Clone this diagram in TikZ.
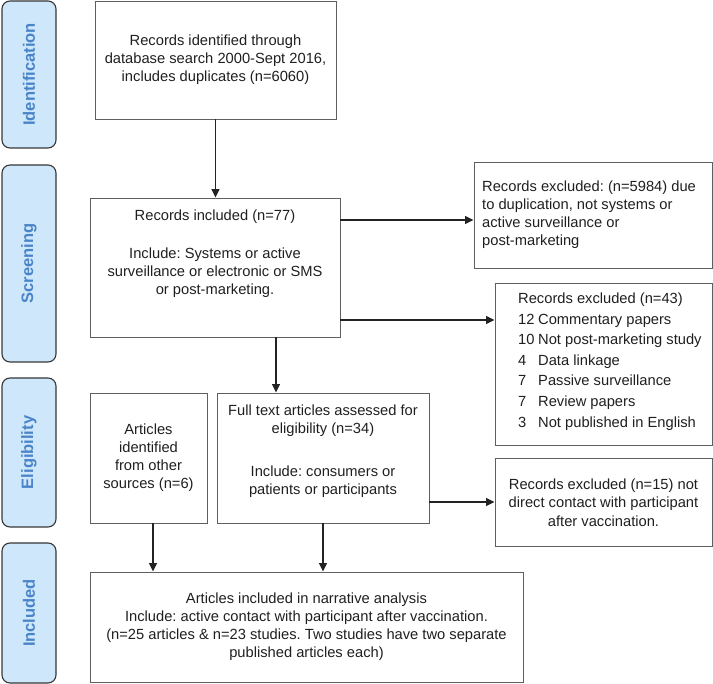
\documentclass[tikz,border=0pt]{standalone}
\usepackage{fontspec}
\setmainfont{Liberation Sans}
\usetikzlibrary{arrows.meta,calc}
\definecolor{sidefill}{RGB}{207,231,250}
\definecolor{sidetext}{RGB}{74,132,200}
\definecolor{sideline}{RGB}{55,55,55}
\definecolor{boxline}{RGB}{95,95,95}
\definecolor{arrowc}{RGB}{35,35,35}
\frenchspacing
\begin{document}
\begin{tikzpicture}[x=1pt,y=-1pt,
  box/.style={draw=boxline,line width=0.9pt,inner sep=0pt},
  txt/.style={inner sep=0pt,font=\fontsize{14.7}{18}\selectfont\frenchspacing,text=black!88},
  side/.style={draw=sideline,fill=sidefill,line width=1.1pt,rounded corners=8pt,
    rotate=90,inner sep=0pt,minimum height=54pt,text=sidetext,
    font=\fontsize{16.5}{18}\selectfont\bfseries},
  arr/.style={draw=arrowc,line width=1.3pt,-{Triangle[length=8.5pt,width=8pt]}}
]
\useasboundingbox (0,0) rectangle (713,684);

% phase labels
\node[side,minimum width=147pt] (S1) at (29,74.5) {Identification};
\node[side,minimum width=197pt] (S2) at (29,263.5) {Screening};
\node[side,minimum width=149pt] (S3) at (29,452.5) {Eligibility};
\node[side,minimum width=140pt] (S4) at (29,613) {Included};

% boxes
\node[box,minimum width=241pt,minimum height=118pt] (B1) at (215.5,60) {};
\node[box,minimum width=250pt,minimum height=139pt] (B2) at (215,267.5) {};
\node[box,minimum width=238pt,minimum height=106pt] (E1) at (593,215) {};
\node[box,minimum width=217pt,minimum height=162pt] (E2) at (603.5,364) {};
\node[box,minimum width=117pt,minimum height=130pt] (O) at (148.5,458) {};
\node[box,minimum width=212pt,minimum height=130pt] (F) at (323,458) {};
\node[box,minimum width=217pt,minimum height=88pt] (E3) at (603.5,502) {};
\node[box,minimum width=433pt,minimum height=110pt] (N) at (306.5,627) {};

% texts
\node[txt,align=center] (B1t) at (215.5,60) {Records identified through\\database search 2000-Sept 2016,\\includes duplicates (n=6060)};
\node[txt,align=center,anchor=north] (B2t) at (215,209.5) {Records included (n=77)\\[20pt]Include: Systems or active\\surveillance or electronic or SMS\\or post-marketing.};
\node[txt,align=left,anchor=west] (E1t) at (482,214.5) {Records excluded: (n=5984) due\\to duplication, not systems or\\active surveillance or\\post-marketing};
\node[txt,align=left,anchor=west,font=\fontsize{14.7}{20.6}\selectfont] (E2t) at (518,361.5) {Records excluded (n=43)\\
\makebox[20pt][l]{12}Commentary papers\\
\makebox[20pt][l]{10}Not post-marketing study\\
\makebox[20pt][l]{4}Data linkage\\
\makebox[20pt][l]{7}Passive surveillance\\
\makebox[20pt][l]{7}Review papers\\
\makebox[20pt][l]{3}Not published in English};
\node[txt,align=center] (Ot) at (148.5,457.5) {Articles\\identified\\from other\\sources (n=6)};
\node[txt,align=center,anchor=north] (Ft) at (323,404.5) {Full text articles assessed for\\eligibility (n=34)\\[25pt]Include: consumers or\\patients or participants};
\node[txt,align=center,font=\fontsize{14.7}{18.5}\selectfont] (E3t) at (603.5,502.5) {Records excluded (n=15) not\\direct contact with participant\\after vaccination.};
\node[txt,align=center] (Nt) at (306.5,627) {Articles included in narrative analysis\\Include: active contact with participant after vaccination.\\(n=25 articles \& n=23 studies. Two studies have two separate\\published articles each)};

% connectors
\coordinate (a1) at (0,220);
\coordinate (a2) at (0,320);
\coordinate (a3) at (276,0);
\coordinate (a4) at (153,0);
\draw[arr] (B1.south) -- (B1.south |- B2.north);
\draw[arr] (B2.east |- a1) -- (E1.west |- a1);
\draw[arr] (B2.east |- a2) -- (E2.west |- a2);
\draw[arr] (B2.south -| a3) -- (F.north -| a3);
\draw[arr] (F.east |- E3.west) -- (E3.west);
\draw[arr] (O.south -| a4) -- (N.north -| a4);
\draw[arr] (F.south) -- (F.south |- N.north);
\end{tikzpicture}
\end{document}
